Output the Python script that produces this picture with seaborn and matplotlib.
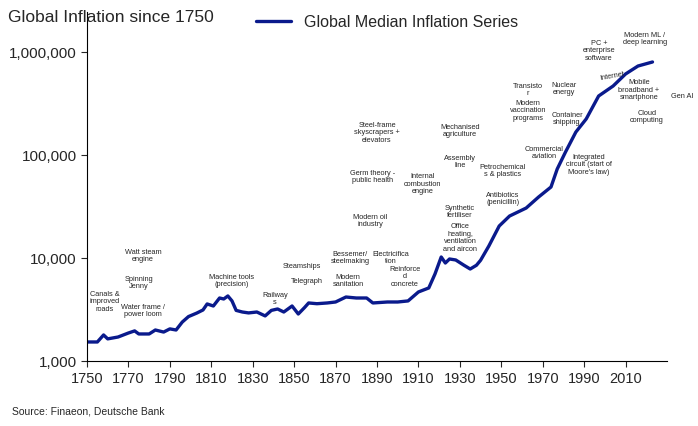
import matplotlib
matplotlib.use("Agg")
import matplotlib.pyplot as plt
import matplotlib.ticker as mt
import seaborn as sns
import pandas as pd

years = [1750,1755,1758,1760,1765,1770,1773,1775,1780,1783,1787,1790,1793,1796,1799,1803,1806,1808,1811,1814,1816,1818,1820,1822,1825,1828,1832,1836,1839,1842,1845,1849,1852,1855,1857,1861,1866,1870,1875,1880,1885,1888,1895,1900,1905,1910,1915,1918,1921,1923,1925,1928,1932,1935,1938,1940,1944,1949,1954,1962,1968,1974,1977,1981,1986,1991,1997,2004,2010,2016,2023]
values = [1530,1530,1790,1640,1710,1870,1960,1830,1830,2000,1910,2050,2000,2390,2700,2920,3130,3580,3420,4090,4000,4280,3830,3100,2990,2930,2990,2740,3100,3200,2990,3420,2860,3300,3660,3600,3660,3740,4180,4090,4090,3660,3740,3740,3830,4680,5120,7000,10230,8940,9780,9570,8500,7820,8500,9500,13080,20450,25560,30550,39080,48900,73100,106900,167100,223900,374000,467700,611800,731000,800000]
xticks = list(range(1750, 2011, 20))
yticks = [1000, 10000, 100000, 1000000]

labels = [
 ("Canals &\nimproved\nroads",105,302),("Watt steam\nengine",143,256),("Spinning\nJenny",139,283),
 ("Water frame /\npower loom",143,311),("Machine tools\n(precision)",232,281),("Railway\ns",275,299),
 ("Steamships",302,267),("Telegraph",307,282),("Bessemer/\nsteelmaking",350,258),("Modern\nsanitation",348,281),
 ("Steel-frame\nskyscrapers +\nelevators",377,133),("Germ theory -\npublic health",373,177),
 ("Modern oil\nindustry",370,221),("Electricifica\ntion",391,258),("Reinforce\nd\nconcrete",405,277),
 ("Internal\ncombustion\nengine",423,184),("Mechanised\nagriculture",460,131),("Assembly\nline",460,162),
 ("Synthetic\nfertiliser",460,212),("Office\nheating,\nventilation\nand aircon",460,238),
 ("Petrochemical\ns & plastics",503,171),("Antibiotics\n(penicillin)",503,199),("Transisto\nr",528,90),
 ("Modern\nvaccination\nprograms",528,111),("Nuclear\nenergy",564,89),("Container\nshipping",567,119),
 ("Commercial\naviation",544,153),("Integrated\ncircuit (start of\nMoore's law)",589,165),
 ("PC +\nenterprise\nsoftware",599,51),("Modern ML /\ndeep learning",645,39),
 ("Mobile\nbroadband +\nsmartphone",639,90),("Gen AI",682,97),("Cloud\ncomputing",647,117),
]

sns.set_style("white")
plt.rcParams['font.family'] = ['Liberation Sans', 'DejaVu Sans']
W, H = 698, 427
fig = plt.figure(figsize=(W/100, H/100), dpi=100)
ax = fig.add_axes([87/W, 1-362/H, 580/W, 349/H])
df = pd.DataFrame({"Year": years, "Value": values})
sns.lineplot(data=df, x="Year", y="Value", ax=ax, color="#0a1a8c", lw=2.4, label="Global Median Inflation Series")
ax.set_yscale("log")
ax.set_xlim(1750, 2030)
ax.set_ylim(1000, 1e6*10**(40/103))
ax.set_xticks(xticks)
ax.set_yticks(yticks)
ax.yaxis.set_major_formatter(mt.FuncFormatter(lambda v, p: f"{int(v):,}"))
ax.yaxis.set_minor_locator(mt.NullLocator())
ax.tick_params(axis='y', labelsize=11, left=True, length=4, direction='out')
ax.tick_params(axis='x', labelsize=10.5, bottom=True, length=4, direction='out')
ax.set_xlabel(""); ax.set_ylabel("")
for s in ["top", "right"]:
    ax.spines[s].set_visible(False)
for s in ["left", "bottom"]:
    ax.spines[s].set_color("black")
leg = ax.legend(loc="upper center", bbox_to_anchor=(300/580, 1.035), frameon=False, fontsize=11.5, handlelength=2.2)
for t, px, py in labels:
    fig.text(px/W, 1-py/H, t, fontsize=5.3, ha="center", va="center", linespacing=1.15)
fig.text(612/W, 1-76/H, "Internet", fontsize=5.3, ha="center", va="center", rotation=10)
fig.text(8/W, 1-18/H, "Global Inflation since 1750", fontsize=12.5, ha="left", va="center")
fig.text(12/W, 1-412/H, "Source: Finaeon, Deutsche Bank", fontsize=7.5, ha="left", va="center")
fig.savefig("out.png", dpi=100)
